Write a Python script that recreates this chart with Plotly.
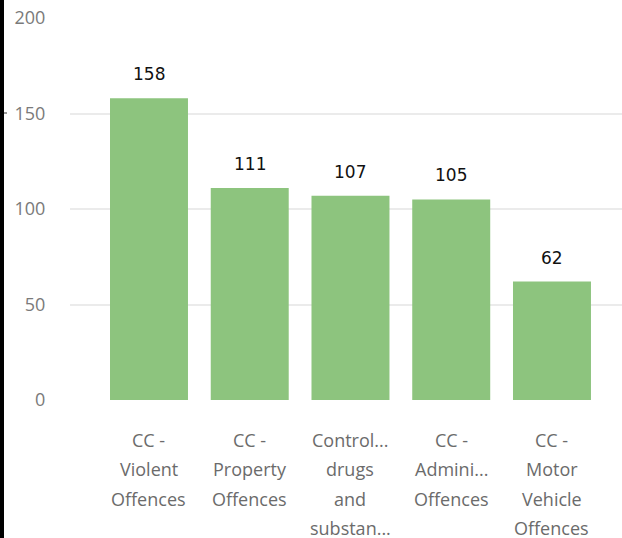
import plotly.graph_objects as go

categories = ["CC - Violent Offences", "CC - Property Offences",
              "Controlled drugs and substances", "CC - Administration Offences",
              "CC - Motor Vehicle Offences"]
tick_lines = [["CC -", "Violent", "Offences"],
              ["CC -", "Property", "Offences"],
              ["Control...", "drugs", "and", "substan..."],
              ["CC -", "Admini...", "Offences"],
              ["CC -", "Motor", "Vehicle", "Offences"]]
values = [158, 111, 107, 105, 62]
y_ticks = [0, 50, 100, 150, 200]

W, H = 622, 538
ML, MR, MT, MB = 70, 0, 18, 138
pw, ph = W - ML - MR, H - MT - MB

fig = go.Figure()
fig.add_trace(go.Bar(x=categories, y=values, marker_color="#8DC47E",
                     marker_line_width=0, hoverinfo="x+y"))

ann = []
for c, v in zip(categories, values):
    ann.append(dict(x=c, y=v, xref="x", yref="y", text=str(v), showarrow=False,
                    yanchor="middle", yshift=24,
                    font=dict(family="DejaVu Sans", size=17, color="#111111")))
for c, lines in zip(categories, tick_lines):
    for i, t in enumerate(lines):
        ann.append(dict(x=c, y=0, xref="x", yref="y", text=t, showarrow=False,
                        yanchor="middle", yshift=-(40 + 29.4 * i),
                        font=dict(family="Open Sans", size=18, color="#6b6b6b")))

fig.update_layout(
    width=W, height=H,
    margin=dict(l=ML, r=MR, t=MT, b=MB),
    paper_bgcolor="white", plot_bgcolor="white",
    bargap=0.226, showlegend=False,
    annotations=ann,
    xaxis=dict(range=[-0.784, 4.695], showticklabels=False, showgrid=False,
               zeroline=False, showline=False, ticks=""),
    yaxis=dict(range=[0, 200], tickvals=y_ticks, showgrid=True,
               gridcolor="#ebebeb", gridwidth=2, zeroline=False, showline=False,
               ticks="outside", ticklen=20, tickcolor="rgba(0,0,0,0)",
               tickfont=dict(family="Open Sans", size=18, color="#7a7a7a")),
    shapes=[
        dict(type="rect", xref="paper", yref="paper",
             x0=-ML / pw, x1=-(ML - 4) / pw, y0=-MB / ph, y1=1 + MT / ph,
             fillcolor="black", line_width=0, layer="above"),
        dict(type="line", xref="paper", yref="paper",
             x0=-(ML - 4) / pw, x1=-(ML - 7) / pw,
             y0=1 - (113 - MT) / ph, y1=1 - (113 - MT) / ph,
             line=dict(color="#333333", width=1)),
    ],
)

fig.write_html("out.html", config={"displayModeBar": False},
               post_script="document.body.style.margin='0';document.body.style.overflow='hidden';")
